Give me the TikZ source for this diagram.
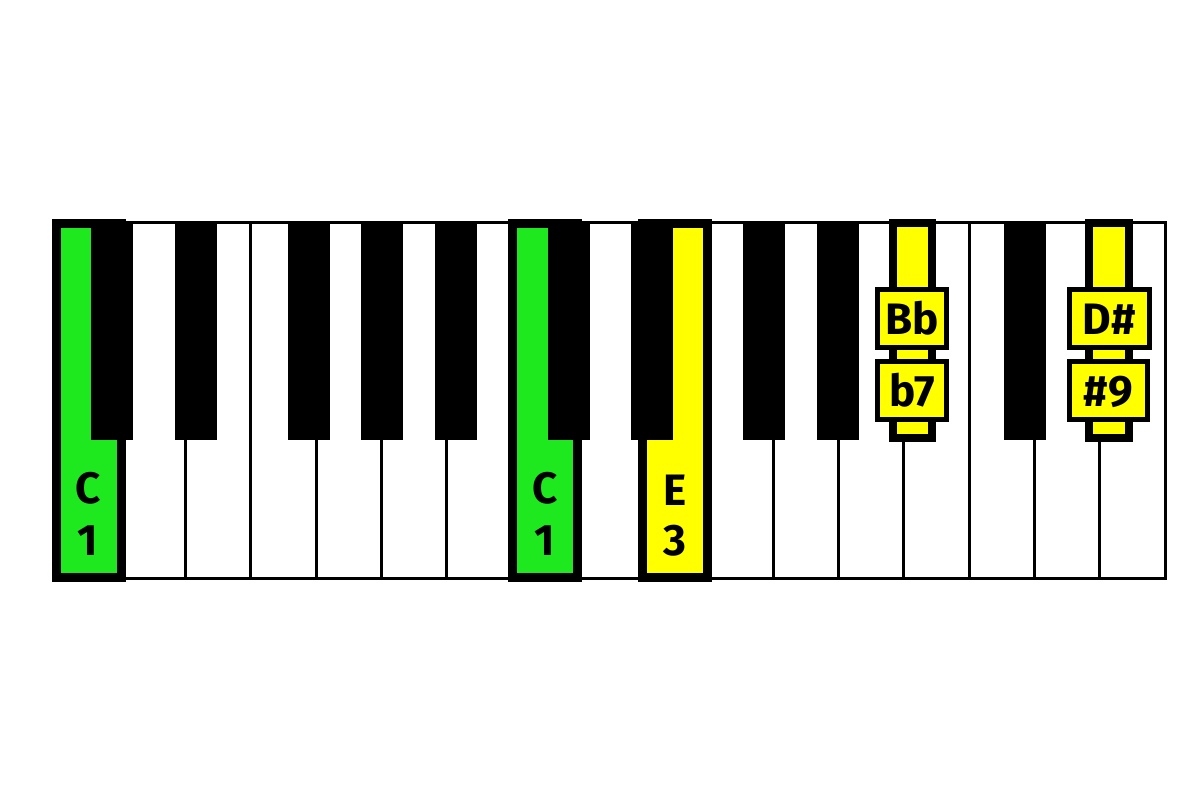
\documentclass[tikz,border=0pt]{standalone}
\usepackage{fontspec}
\setmainfont{Fira Sans}
\usepackage{tikz}
\usepackage{xcolor}
\usetikzlibrary{positioning}

\definecolor{keygreen}{RGB}{30,232,30}
\definecolor{keyyellow}{RGB}{255,255,0}

\tikzset{
    whitekey/.style={draw=black, fill=white, line width=3pt},
    blackkey/.style={fill=black},
    rootkey/.style={draw=black, fill=keygreen, line width=9pt},
    tonekey/.style={draw=black, fill=keyyellow, line width=9pt},
    tonesharp/.style={draw=black, fill=keyyellow, line width=8pt},
    keylabel/.style={font=\fontsize{44}{44}\selectfont\bfseries, inner sep=0pt},
    degreebox/.style={draw=black, fill=keyyellow, line width=5pt, minimum height=58pt,
        font=\fontsize{44}{44}\selectfont\bfseries, text height=32pt, text depth=0pt, inner sep=0pt}
}

\begin{document}
\begin{tikzpicture}[x=1pt, y=-1pt]
        \useasboundingbox (0, 0) rectangle (1200, 800);

        % white keys
        \foreach \i in {0,...,16}
            \draw[whitekey] (55+\i*65.3, 222) rectangle (55+\i*65.3+65.3, 578);

        % chord tones on white keys
        \draw[rootkey] (56.5, 223.5) rectangle (121, 577.5);
        \draw[rootkey] (512.5, 223.5) rectangle (577.5, 577.5);
        \draw[tonekey] (642.5, 223.5) rectangle (707.5, 577.5);

        % black keys
        \foreach \c in {112, 195.5, 308.5, 382, 456, 569, 652, 764, 838, 1025}
            \fill[blackkey] (\c-21, 222) rectangle (\c+21, 440);

        % chord tones on black keys
        \draw[tonesharp] (893, 223) rectangle (932, 438);
        \draw[tonesharp] (1089, 223) rectangle (1128.5, 438);

        \node[keylabel] (c1note) at (88, 488) {C};
        \node[keylabel] (c1deg) at (88, 541) {1};
        \node[keylabel] (c2note) at (545, 488) {C};
        \node[keylabel] (c2deg) at (545, 541) {1};
        \node[keylabel] (e3note) at (675, 490) {E};
        \node[keylabel] (e3deg) at (675, 541) {3};

        \node[degreebox, minimum width=69pt] (bbnote) at (912, 318.5) {Bb};
        \node[degreebox, minimum width=69pt] (bbdeg) at (912, 390) {b7};
        \node[degreebox, minimum width=80pt] (dsnote) at (1109.5, 318.5) {D\#};
        \node[degreebox, minimum width=78pt] (dsdeg) at (1108.5, 390) {\#9};
    \end{tikzpicture}
\end{document}
